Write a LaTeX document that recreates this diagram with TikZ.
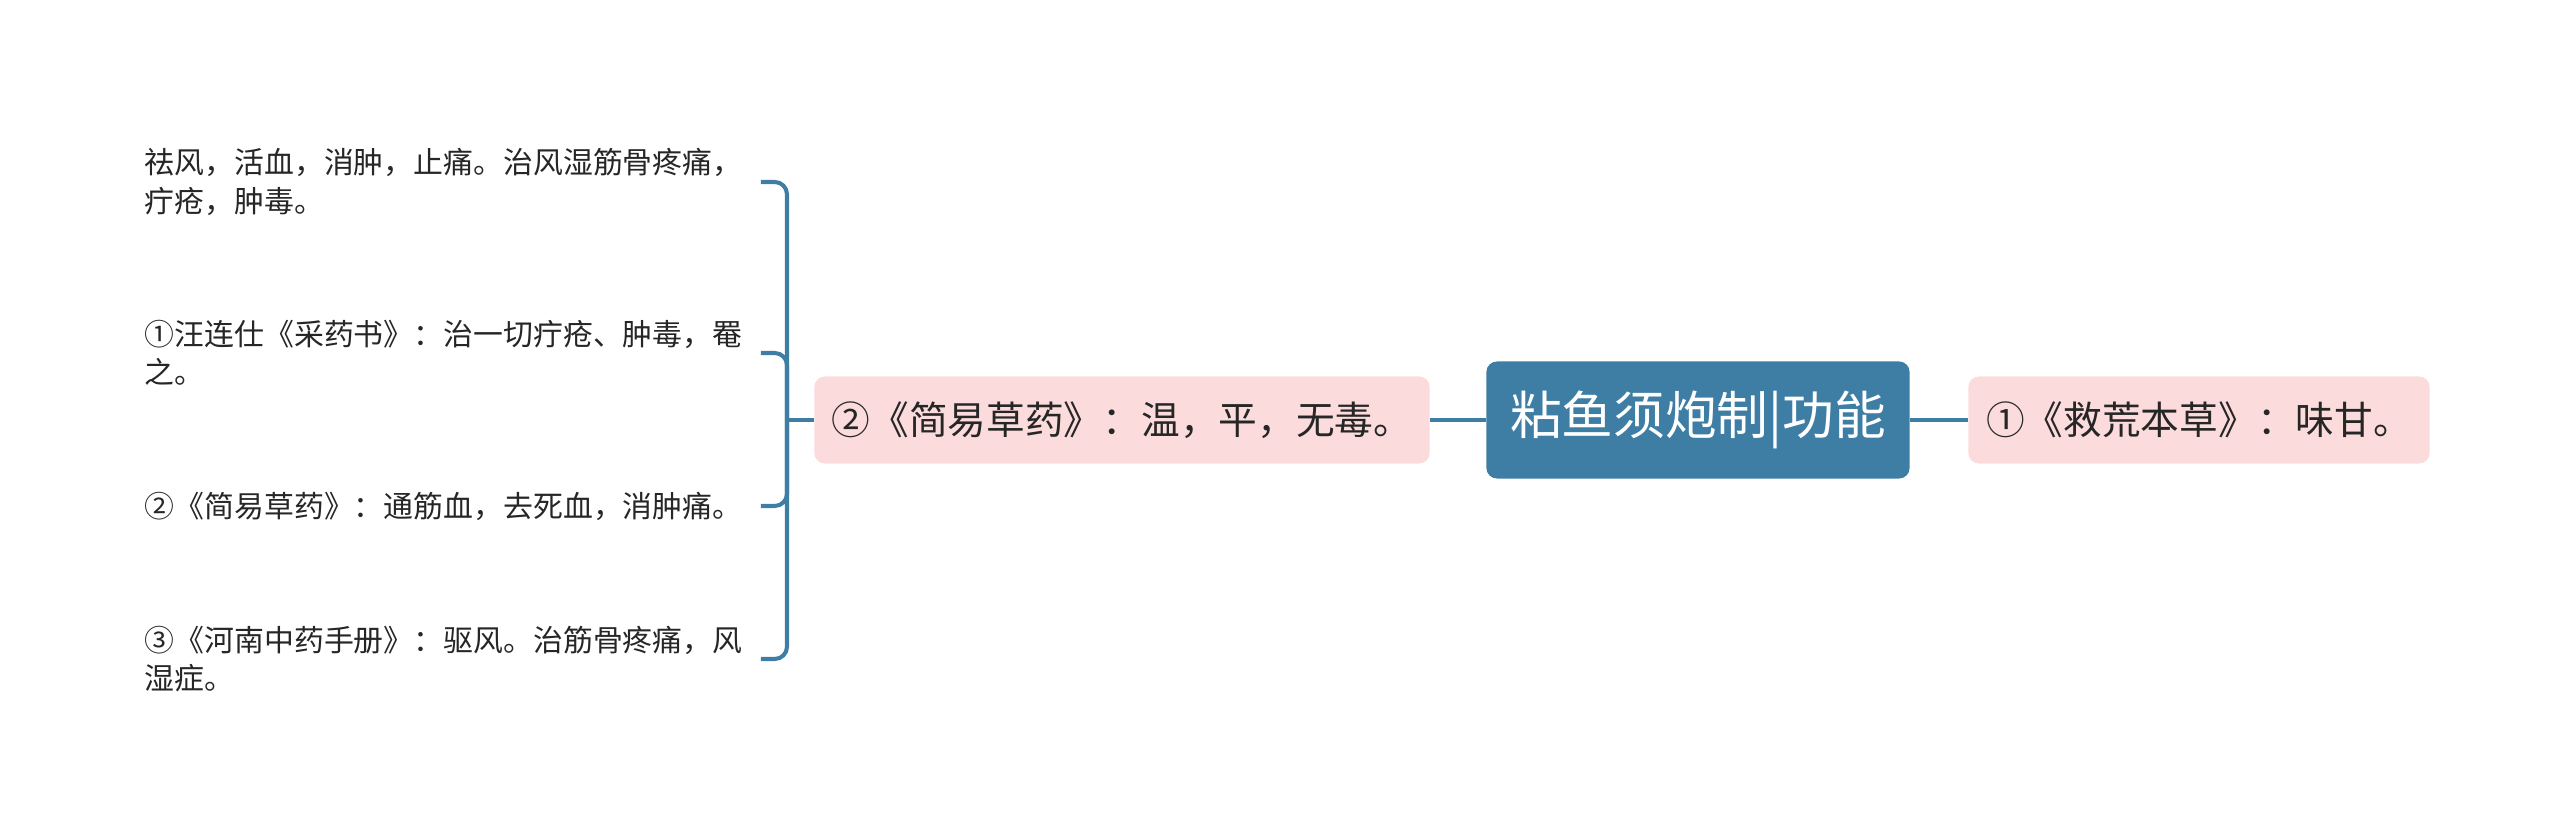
\documentclass[tikz,border=0pt]{standalone}
\usepackage{fontspec}
\setmainfont{Noto Sans CJK SC}
\definecolor{rootblue}{RGB}{62,126,165}
\definecolor{pinkbg}{RGB}{251,219,219}
\definecolor{inkgray}{RGB}{38,38,38}

\begin{document}
\begin{tikzpicture}[x=0.01cm, y=-0.01cm,
	root/.style = {fill=rootblue, text=white, rounded corners=3pt, inner sep=0, minimum width=4.23cm, minimum height=1.17cm, font=\fontsize{14.7}{17}\selectfont},
	topic/.style = {fill=pinkbg, text=inkgray, rounded corners=3pt, inner sep=0, minimum height=0.87cm, font=\fontsize{11}{13}\selectfont},
	leaf/.style = {anchor=west, align=left, text width=6.15cm, inner sep=0, text=inkgray, font=\fontsize{8.5}{10.9}\selectfont},
	link/.style = {draw=rootblue, line width=1.15pt}]
	\useasboundingbox (0,0) rectangle (2560,840);
	\node[root] (0) at (1698,420) {粘鱼须炮制|功能};
	\node[topic, minimum width=6.15cm] (1) at (1122,420) {②《简易草药》：温，平，无毒。};
	\node[topic, minimum width=4.61cm] (2) at (2199,420) {①《救荒本草》：味甘。};
	\node[leaf] (11) at (144,182) {祛风，活血，消肿，止痛。治风湿筋骨疼痛，\\疔疮，肿毒。};
	\node[leaf] (12) at (144,353) {①汪连仕《采药书》：治一切疔疮、肿毒，罨\\之。};
	\node[leaf] (13) at (144,506) {②《简易草药》：通筋血，去死血，消肿痛。};
	\node[leaf] (14) at (144,659) {③《河南中药手册》：驱风。治筋骨疼痛，风\\湿症。};
	\coordinate (j) at (787,420);
	\draw[link] (0) -- (1);
	\draw[link] (0) -- (2);
	\draw[link] (1) -- (j);
	\foreach \n in {11,12,13,14}
		\draw[link, rounded corners=3.5pt] (j) |- (\n.east);
\end{tikzpicture}
\end{document}
